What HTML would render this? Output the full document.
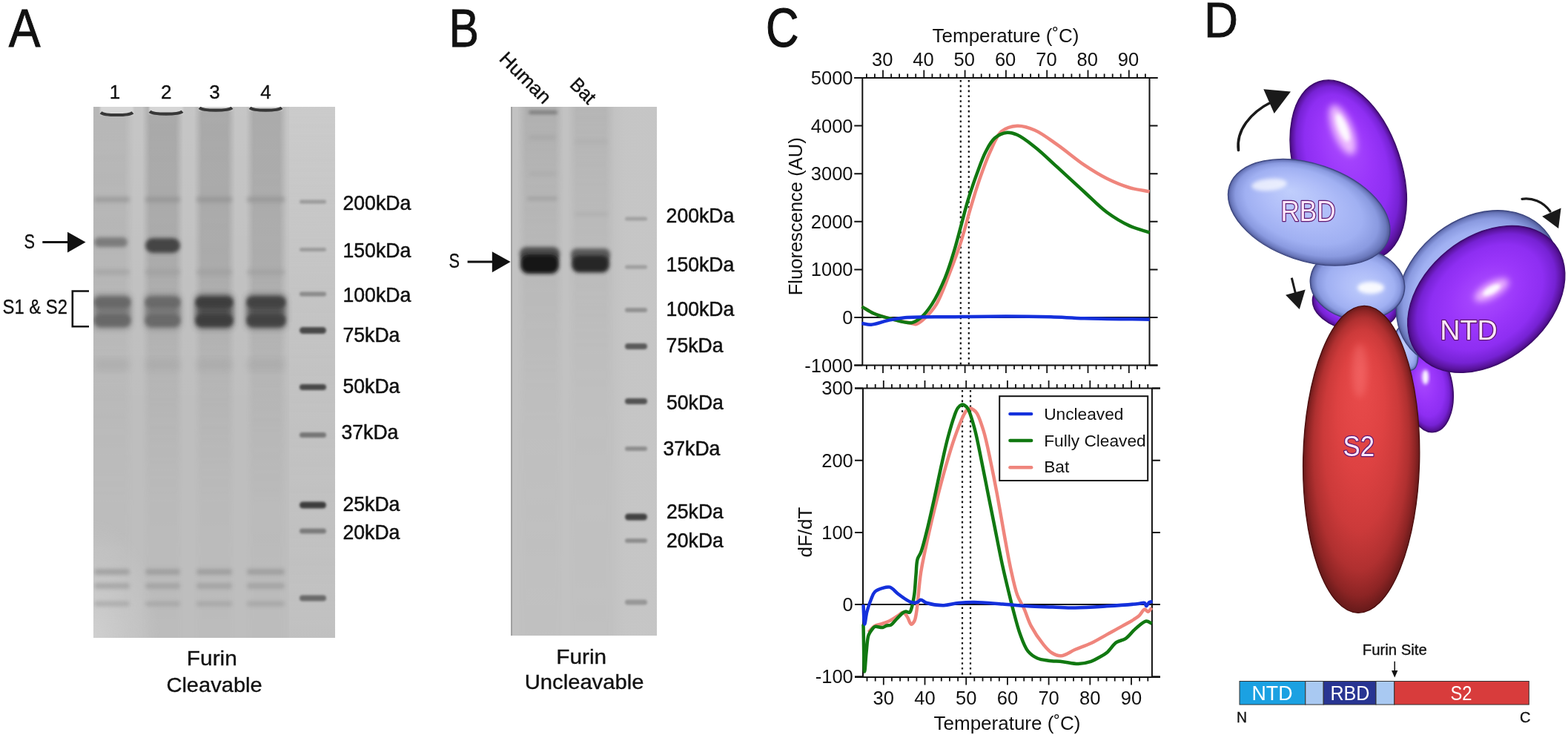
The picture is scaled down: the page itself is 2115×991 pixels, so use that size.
<!DOCTYPE html>
<html><head><meta charset="utf-8"><title>Figure</title>
<style>html,body{margin:0;padding:0;background:#fff;overflow:hidden;} svg{display:block;} text{font-family:"Liberation Sans",sans-serif;}</style>
</head><body>
<svg width="2115" height="991" viewBox="0 0 2115 991" fill="#111">
<defs>
<filter id="b05" x="-20%" y="-50%" width="140%" height="200%"><feGaussianBlur stdDeviation="0.6"/></filter>
<filter id="b1" x="-20%" y="-50%" width="140%" height="200%"><feGaussianBlur stdDeviation="1"/></filter>
<filter id="b15" x="-30%" y="-100%" width="160%" height="300%"><feGaussianBlur stdDeviation="1.5"/></filter>
<filter id="b2" x="-30%" y="-100%" width="160%" height="300%"><feGaussianBlur stdDeviation="2"/></filter>
<filter id="b3" x="-30%" y="-100%" width="160%" height="300%"><feGaussianBlur stdDeviation="2.5"/></filter>
<filter id="b4" x="-30%" y="-30%" width="160%" height="160%"><feGaussianBlur stdDeviation="4"/></filter>
<filter id="b6" x="-100%" y="-100%" width="300%" height="300%"><feGaussianBlur stdDeviation="5"/></filter>
<clipPath id="clipA"><rect x="126" y="144" width="326" height="716"/></clipPath>
<clipPath id="clipB"><rect x="689" y="144" width="197" height="713"/></clipPath>
<linearGradient id="laneH" x1="0" y1="0" x2="1" y2="0">
 <stop offset="0" stop-color="#9c9c9c" stop-opacity="0"/>
 <stop offset="0.18" stop-color="#9c9c9c" stop-opacity="0.9"/>
 <stop offset="0.82" stop-color="#9c9c9c" stop-opacity="0.9"/>
 <stop offset="1" stop-color="#9c9c9c" stop-opacity="0"/>
</linearGradient>
<linearGradient id="ladH" x1="0" y1="0" x2="1" y2="0">
 <stop offset="0" stop-color="#cacaca" stop-opacity="0"/>
 <stop offset="0.25" stop-color="#cacaca" stop-opacity="0.7"/>
 <stop offset="1" stop-color="#cacaca" stop-opacity="0.7"/>
</linearGradient>
<linearGradient id="ladV" x1="0" y1="144" x2="0" y2="860" gradientUnits="userSpaceOnUse">
 <stop offset="0" stop-color="#cccccc" stop-opacity="0.8"/>
 <stop offset="0.35" stop-color="#c8c8c8" stop-opacity="0.45"/>
 <stop offset="1" stop-color="#c8c8c8" stop-opacity="0.3"/>
</linearGradient>
<radialGradient id="cornerA" cx="0" cy="1" r="1">
 <stop offset="0" stop-color="#d4d4d4" stop-opacity="0.8"/>
 <stop offset="1" stop-color="#d4d4d4" stop-opacity="0"/>
</radialGradient>
<linearGradient id="mgA" x1="0" y1="144" x2="0" y2="860" gradientUnits="userSpaceOnUse">
 <stop offset="0" stop-color="#fff" stop-opacity="0.75"/>
 <stop offset="0.3" stop-color="#fff" stop-opacity="0.65"/>
 <stop offset="0.5" stop-color="#fff" stop-opacity="0.3"/>
 <stop offset="0.75" stop-color="#fff" stop-opacity="0.1"/>
 <stop offset="1" stop-color="#fff" stop-opacity="0.05"/>
</linearGradient>
<linearGradient id="mgB" x1="0" y1="144" x2="0" y2="857" gradientUnits="userSpaceOnUse">
 <stop offset="0" stop-color="#fff" stop-opacity="0.5"/>
 <stop offset="0.3" stop-color="#fff" stop-opacity="0.25"/>
 <stop offset="0.6" stop-color="#fff" stop-opacity="0.08"/>
 <stop offset="1" stop-color="#fff" stop-opacity="0.03"/>
</linearGradient>
<mask id="maskA" maskUnits="userSpaceOnUse" x="100" y="140" width="400" height="730"><rect x="100" y="140" width="400" height="730" fill="url(#mgA)"/></mask>
<mask id="maskB" maskUnits="userSpaceOnUse" x="680" y="140" width="220" height="730"><rect x="680" y="140" width="220" height="730" fill="url(#mgB)"/></mask>
<linearGradient id="gapGrad" x1="0" y1="140" x2="0" y2="560" gradientUnits="userSpaceOnUse">
 <stop offset="0" stop-color="#fff" stop-opacity="0.12"/>
 <stop offset="1" stop-color="#fff" stop-opacity="0"/>
</linearGradient>
</defs>
<rect width="2115" height="991" fill="#fff"/>
<text x="11.8" y="63" font-size="72" textLength="42.8" lengthAdjust="spacingAndGlyphs" stroke="#111" stroke-width="0.9">A</text>
<text x="155" y="132.5" font-size="26" text-anchor="middle" stroke="#111" stroke-width="0.35">1</text>
<text x="224.2" y="132.5" font-size="26" text-anchor="middle" stroke="#111" stroke-width="0.35">2</text>
<text x="289.4" y="132.5" font-size="26" text-anchor="middle" stroke="#111" stroke-width="0.35">3</text>
<text x="358.5" y="132.5" font-size="26" text-anchor="middle" stroke="#111" stroke-width="0.35">4</text>
<g clip-path="url(#clipA)">
<rect x="126" y="144" width="326" height="716" fill="#bebebe"/>
<rect x="120" y="140" width="340" height="420" fill="url(#gapGrad)" />
<g mask="url(#maskA)">
<rect x="112" y="144" width="68" height="716" fill="url(#laneH)" opacity="0.5"/>
<rect x="192" y="144" width="55" height="716" fill="url(#laneH)" opacity="1.0"/>
<rect x="262" y="144" width="55" height="716" fill="url(#laneH)" opacity="1.0"/>
<rect x="332" y="144" width="55" height="716" fill="url(#laneH)" opacity="0.95"/>
</g>
<rect x="390" y="144" width="62" height="716" fill="url(#ladV)"/>
<rect x="126" y="700" width="90" height="160" fill="url(#cornerA)"/>
<rect x="135" y="140" width="45" height="15.300000000000011" fill="#d6d6d6" filter="url(#b1)"/>
<path d="M136,151.8 C141,156.3 174,156.3 179,151.8" stroke="#383838" stroke-width="4.2" fill="none" filter="url(#b05)"/>
<rect x="201" y="140" width="46" height="13.699999999999989" fill="#d6d6d6" filter="url(#b1)"/>
<path d="M202,150.2 C207,154.7 241,154.7 246,150.2" stroke="#383838" stroke-width="4.2" fill="none" filter="url(#b05)"/>
<rect x="268" y="140" width="46" height="8.800000000000011" fill="#d6d6d6" filter="url(#b1)"/>
<path d="M269,145.3 C274,149.8 308,149.8 313,145.3" stroke="#383838" stroke-width="4.2" fill="none" filter="url(#b05)"/>
<rect x="336" y="140" width="45" height="8.800000000000011" fill="#d6d6d6" filter="url(#b1)"/>
<path d="M337,145.3 C342,149.8 375,149.8 380,145.3" stroke="#383838" stroke-width="4.2" fill="none" filter="url(#b05)"/>
<rect x="127" y="265.0" width="48" height="8" rx="4.0" fill="#8e8e8e" opacity="0.55" filter="url(#b3)"/>
<rect x="127" y="363.0" width="48" height="8" rx="4.0" fill="#9a9a9a" opacity="0.45" filter="url(#b3)"/>
<rect x="127" y="484.0" width="48" height="16" rx="8.0" fill="#a4a4a4" opacity="0.45" filter="url(#b4)"/>
<rect x="127" y="767.0" width="48" height="8" rx="4.0" fill="#929292" opacity="0.65" filter="url(#b3)"/>
<rect x="127" y="786.0" width="48" height="8" rx="4.0" fill="#969696" opacity="0.6" filter="url(#b3)"/>
<rect x="127" y="810.5" width="48" height="7" rx="3.5" fill="#9a9a9a" opacity="0.55" filter="url(#b3)"/>
<rect x="196" y="265.0" width="47" height="8" rx="4.0" fill="#8e8e8e" opacity="0.55" filter="url(#b3)"/>
<rect x="196" y="363.0" width="47" height="8" rx="4.0" fill="#9a9a9a" opacity="0.45" filter="url(#b3)"/>
<rect x="196" y="484.0" width="47" height="16" rx="8.0" fill="#a4a4a4" opacity="0.45" filter="url(#b4)"/>
<rect x="196" y="767.0" width="47" height="8" rx="4.0" fill="#929292" opacity="0.65" filter="url(#b3)"/>
<rect x="196" y="786.0" width="47" height="8" rx="4.0" fill="#969696" opacity="0.6" filter="url(#b3)"/>
<rect x="196" y="810.5" width="47" height="7" rx="3.5" fill="#9a9a9a" opacity="0.55" filter="url(#b3)"/>
<rect x="265" y="265.0" width="48" height="8" rx="4.0" fill="#8e8e8e" opacity="0.55" filter="url(#b3)"/>
<rect x="265" y="363.0" width="48" height="8" rx="4.0" fill="#9a9a9a" opacity="0.45" filter="url(#b3)"/>
<rect x="265" y="484.0" width="48" height="16" rx="8.0" fill="#a4a4a4" opacity="0.45" filter="url(#b4)"/>
<rect x="265" y="767.0" width="48" height="8" rx="4.0" fill="#929292" opacity="0.65" filter="url(#b3)"/>
<rect x="265" y="786.0" width="48" height="8" rx="4.0" fill="#969696" opacity="0.6" filter="url(#b3)"/>
<rect x="265" y="810.5" width="48" height="7" rx="3.5" fill="#9a9a9a" opacity="0.55" filter="url(#b3)"/>
<rect x="333" y="265.0" width="51" height="8" rx="4.0" fill="#8e8e8e" opacity="0.55" filter="url(#b3)"/>
<rect x="333" y="363.0" width="51" height="8" rx="4.0" fill="#9a9a9a" opacity="0.45" filter="url(#b3)"/>
<rect x="333" y="484.0" width="51" height="16" rx="8.0" fill="#a4a4a4" opacity="0.45" filter="url(#b4)"/>
<rect x="333" y="767.0" width="51" height="8" rx="4.0" fill="#929292" opacity="0.65" filter="url(#b3)"/>
<rect x="333" y="786.0" width="51" height="8" rx="4.0" fill="#969696" opacity="0.6" filter="url(#b3)"/>
<rect x="333" y="810.5" width="51" height="7" rx="3.5" fill="#9a9a9a" opacity="0.55" filter="url(#b3)"/>
<rect x="127" y="320.1" width="45" height="13" rx="6.5" fill="#767676" opacity="0.9" filter="url(#b3)"/>
<rect x="196" y="321.0" width="47" height="20" rx="10.0" fill="#454545" opacity="1.0" filter="url(#b3)"/>
<rect x="127" y="398.0" width="49" height="44" rx="6.0" fill="#666666" opacity="0.765" filter="url(#b4)"/>
<rect x="127" y="400.7" width="49" height="14" rx="7.0" fill="#666666" opacity="0.9" filter="url(#b3)"/>
<rect x="127" y="424.0" width="49" height="16" rx="8.0" fill="#666666" opacity="0.9" filter="url(#b3)"/>
<rect x="196" y="398.0" width="47" height="44" rx="6.0" fill="#686868" opacity="0.765" filter="url(#b4)"/>
<rect x="196" y="400.7" width="47" height="14" rx="7.0" fill="#686868" opacity="0.9" filter="url(#b3)"/>
<rect x="196" y="424.0" width="47" height="16" rx="8.0" fill="#686868" opacity="0.9" filter="url(#b3)"/>
<rect x="264" y="398.0" width="50" height="44" rx="6.0" fill="#3c3c3c" opacity="0.85" filter="url(#b4)"/>
<rect x="264" y="400.7" width="50" height="14" rx="7.0" fill="#3c3c3c" opacity="1.0" filter="url(#b3)"/>
<rect x="264" y="424.0" width="50" height="16" rx="8.0" fill="#3c3c3c" opacity="1.0" filter="url(#b3)"/>
<rect x="333" y="398.0" width="52" height="44" rx="6.0" fill="#424242" opacity="0.85" filter="url(#b4)"/>
<rect x="333" y="400.7" width="52" height="14" rx="7.0" fill="#424242" opacity="1.0" filter="url(#b3)"/>
<rect x="333" y="424.0" width="52" height="16" rx="8.0" fill="#424242" opacity="1.0" filter="url(#b3)"/>
<rect x="404" y="269.5" width="36" height="5" rx="2.5" fill="#9a9a9a" filter="url(#b15)"/>
<rect x="404" y="334.1" width="36" height="5" rx="2.5" fill="#9a9a9a" filter="url(#b15)"/>
<rect x="404" y="393.6" width="36" height="6" rx="3.0" fill="#8a8a8a" filter="url(#b15)"/>
<rect x="404" y="441.0" width="36" height="9" rx="4.5" fill="#4a4a4a" filter="url(#b15)"/>
<rect x="404" y="518.0" width="36" height="8" rx="4.0" fill="#4a4a4a" filter="url(#b15)"/>
<rect x="404" y="583.1" width="36" height="7" rx="3.5" fill="#767676" filter="url(#b15)"/>
<rect x="404" y="676.5" width="36" height="9" rx="4.5" fill="#3c3c3c" filter="url(#b15)"/>
<rect x="404" y="712.5" width="36" height="7" rx="3.5" fill="#7c7c7c" filter="url(#b15)"/>
<rect x="404" y="802.5" width="36" height="8" rx="4.0" fill="#6a6a6a" filter="url(#b15)"/>
</g>
<text x="462.5" y="282.9" font-size="27.5" textLength="91.8" lengthAdjust="spacingAndGlyphs" stroke="#111" stroke-width="0.5">200kDa</text>
<text x="462.5" y="347.3" font-size="27.5" textLength="91.8" lengthAdjust="spacingAndGlyphs" stroke="#111" stroke-width="0.5">150kDa</text>
<text x="462.5" y="407.2" font-size="27.5" textLength="91.8" lengthAdjust="spacingAndGlyphs" stroke="#111" stroke-width="0.5">100kDa</text>
<text x="462.5" y="461" font-size="27.5" textLength="76.9" lengthAdjust="spacingAndGlyphs" stroke="#111" stroke-width="0.5">75kDa</text>
<text x="462.5" y="530" font-size="27.5" textLength="76.9" lengthAdjust="spacingAndGlyphs" stroke="#111" stroke-width="0.5">50kDa</text>
<text x="460.5" y="592" font-size="27.5" textLength="76.9" lengthAdjust="spacingAndGlyphs" stroke="#111" stroke-width="0.5">37kDa</text>
<text x="462.5" y="688.9" font-size="27.5" textLength="76.9" lengthAdjust="spacingAndGlyphs" stroke="#111" stroke-width="0.5">25kDa</text>
<text x="462.5" y="727" font-size="27.5" textLength="76.9" lengthAdjust="spacingAndGlyphs" stroke="#111" stroke-width="0.5">20kDa</text>
<text x="32.5" y="335" font-size="27" textLength="14.5" lengthAdjust="spacingAndGlyphs" stroke="#111" stroke-width="0.35">S</text>
<path d="M57.3,326.6 H93" stroke="#111" stroke-width="3"/>
<path d="M91,312.8 L115.5,326.6 L91,340.6 Z" fill="#111"/>
<path d="M120,392.5 H97.8 V440.3 H120" stroke="#111" stroke-width="2.6" fill="none"/>
<text x="3.5" y="422.8" font-size="27" textLength="87.5" lengthAdjust="spacingAndGlyphs" stroke="#111" stroke-width="0.35">S1 &amp; S2</text>
<text x="251.8" y="897.4" font-size="27.5" textLength="68" lengthAdjust="spacingAndGlyphs" stroke="#111" stroke-width="0.35">Furin</text>
<text x="224.4" y="932.8" font-size="27.5" textLength="129.3" lengthAdjust="spacingAndGlyphs" stroke="#111" stroke-width="0.35">Cleavable</text>
<text x="605.4" y="63" font-size="72" textLength="40.5" lengthAdjust="spacingAndGlyphs" stroke="#111" stroke-width="0.9">B</text>
<text transform="translate(672,80.5) rotate(45)" font-size="26" textLength="86.5" lengthAdjust="spacingAndGlyphs" stroke="#111" stroke-width="0.35">Human</text>
<text transform="translate(767.3,115.6) rotate(45)" font-size="26" textLength="37" lengthAdjust="spacingAndGlyphs" stroke="#111" stroke-width="0.35">Bat</text>
<g clip-path="url(#clipB)">
<rect x="689" y="144" width="197" height="713" fill="#c2c2c2"/>
<rect x="689" y="144" width="2" height="713" fill="#a0a0a0"/>
<g mask="url(#maskB)">
<rect x="698" y="144" width="62" height="713" fill="url(#laneH)" opacity="1.0"/>
<rect x="766" y="144" width="62" height="713" fill="url(#laneH)" opacity="0.7"/>
</g>
<rect x="828" y="144" width="58" height="713" fill="url(#ladH)" opacity="0.6"/>
<rect x="713" y="149.0" width="39" height="5" rx="2.5" fill="#707070" opacity="0.8" filter="url(#b2)"/>
<rect x="713" y="182.3" width="37" height="6" rx="3.0" fill="#a0a0a0" opacity="0.5" filter="url(#b3)"/>
<rect x="713" y="231.0" width="37" height="6" rx="3.0" fill="#a4a4a4" opacity="0.4" filter="url(#b3)"/>
<rect x="711" y="264.8" width="41" height="6" rx="3.0" fill="#989898" opacity="0.55" filter="url(#b3)"/>
<rect x="775" y="188.0" width="45" height="6" rx="3.0" fill="#a8a8a8" opacity="0.4" filter="url(#b3)"/>
<rect x="775" y="285.5" width="45" height="6" rx="3.0" fill="#a8a8a8" opacity="0.45" filter="url(#b3)"/>
<rect x="701" y="333.0" width="54" height="20" rx="9.0" fill="#484848" opacity="0.95" filter="url(#b3)"/>
<rect x="702" y="343.0" width="52" height="26" rx="11.0" fill="#171717" opacity="1.0" filter="url(#b3)"/>
<rect x="770" y="335.0" width="53" height="18" rx="8.0" fill="#565656" opacity="0.95" filter="url(#b3)"/>
<rect x="771" y="344.5" width="51" height="23" rx="10.0" fill="#282828" opacity="1.0" filter="url(#b3)"/>
<rect x="843" y="292.5" width="30" height="5" rx="2.5" fill="#a0a0a0" filter="url(#b15)"/>
<rect x="843" y="357.5" width="30" height="5" rx="2.5" fill="#9e9e9e" filter="url(#b15)"/>
<rect x="843" y="415.0" width="30" height="6" rx="3.0" fill="#929292" filter="url(#b15)"/>
<rect x="843" y="463.0" width="30" height="8" rx="4.0" fill="#5a5a5a" filter="url(#b15)"/>
<rect x="843" y="537.0" width="30" height="8" rx="4.0" fill="#525252" filter="url(#b15)"/>
<rect x="843" y="602.0" width="30" height="6" rx="3.0" fill="#8e8e8e" filter="url(#b15)"/>
<rect x="843" y="692.5" width="30" height="9" rx="4.5" fill="#424242" filter="url(#b15)"/>
<rect x="843" y="726.0" width="30" height="6" rx="3.0" fill="#8e8e8e" filter="url(#b15)"/>
<rect x="843" y="808.5" width="30" height="7" rx="3.5" fill="#969696" filter="url(#b15)"/>
</g>
<text x="898.6" y="300" font-size="27.5" textLength="91.8" lengthAdjust="spacingAndGlyphs" stroke="#111" stroke-width="0.5">200kDa</text>
<text x="898.6" y="366" font-size="27.5" textLength="91.8" lengthAdjust="spacingAndGlyphs" stroke="#111" stroke-width="0.5">150kDa</text>
<text x="898.6" y="426" font-size="27.5" textLength="91.8" lengthAdjust="spacingAndGlyphs" stroke="#111" stroke-width="0.5">100kDa</text>
<text x="898.6" y="475" font-size="27.5" textLength="76.9" lengthAdjust="spacingAndGlyphs" stroke="#111" stroke-width="0.5">75kDa</text>
<text x="899" y="552" font-size="27.5" textLength="76.9" lengthAdjust="spacingAndGlyphs" stroke="#111" stroke-width="0.5">50kDa</text>
<text x="894.5" y="613.8" font-size="27.5" textLength="76.9" lengthAdjust="spacingAndGlyphs" stroke="#111" stroke-width="0.5">37kDa</text>
<text x="899" y="699" font-size="27.5" textLength="76.9" lengthAdjust="spacingAndGlyphs" stroke="#111" stroke-width="0.5">25kDa</text>
<text x="899" y="738" font-size="27.5" textLength="76.9" lengthAdjust="spacingAndGlyphs" stroke="#111" stroke-width="0.5">20kDa</text>
<text x="605.5" y="361.4" font-size="27" textLength="14.5" lengthAdjust="spacingAndGlyphs" stroke="#111" stroke-width="0.35">S</text>
<path d="M630.6,353 H666" stroke="#111" stroke-width="3"/>
<path d="M663.8,339.3 L688.6,353 L663.8,367.2 Z" fill="#111"/>
<text x="750.3" y="894.5" font-size="27.5" textLength="67.8" lengthAdjust="spacingAndGlyphs" stroke="#111" stroke-width="0.35">Furin</text>
<text x="707.8" y="928.9" font-size="27.5" textLength="160.6" lengthAdjust="spacingAndGlyphs" stroke="#111" stroke-width="0.35">Uncleavable</text>
<path d="M1163.3,105.0 V492.6 M1550.5,105.0 V492.6" stroke="#111" stroke-width="2" fill="none"/>
<path d="M1152.3,105.0 H1561.5 M1152.3,492.6 H1561.5" stroke="#111" stroke-width="2" fill="none"/>
<path d="M1168.9,105.0 v-5.5 M1168.9,492.6 v5.5 M1179.9,105.0 v-5.5 M1179.9,492.6 v5.5 M1191.0,105.0 v-10.5 M1191.0,492.6 v10.5 M1202.1,105.0 v-5.5 M1202.1,492.6 v5.5 M1213.1,105.0 v-5.5 M1213.1,492.6 v5.5 M1224.2,105.0 v-5.5 M1224.2,492.6 v5.5 M1235.2,105.0 v-5.5 M1235.2,492.6 v5.5 M1246.3,105.0 v-10.5 M1246.3,492.6 v10.5 M1257.4,105.0 v-5.5 M1257.4,492.6 v5.5 M1268.4,105.0 v-5.5 M1268.4,492.6 v5.5 M1279.5,105.0 v-5.5 M1279.5,492.6 v5.5 M1290.5,105.0 v-5.5 M1290.5,492.6 v5.5 M1301.6,105.0 v-10.5 M1301.6,492.6 v10.5 M1312.7,105.0 v-5.5 M1312.7,492.6 v5.5 M1323.7,105.0 v-5.5 M1323.7,492.6 v5.5 M1334.8,105.0 v-5.5 M1334.8,492.6 v5.5 M1345.8,105.0 v-5.5 M1345.8,492.6 v5.5 M1356.9,105.0 v-10.5 M1356.9,492.6 v10.5 M1368.0,105.0 v-5.5 M1368.0,492.6 v5.5 M1379.0,105.0 v-5.5 M1379.0,492.6 v5.5 M1390.1,105.0 v-5.5 M1390.1,492.6 v5.5 M1401.1,105.0 v-5.5 M1401.1,492.6 v5.5 M1412.2,105.0 v-10.5 M1412.2,492.6 v10.5 M1423.3,105.0 v-5.5 M1423.3,492.6 v5.5 M1434.3,105.0 v-5.5 M1434.3,492.6 v5.5 M1445.4,105.0 v-5.5 M1445.4,492.6 v5.5 M1456.4,105.0 v-5.5 M1456.4,492.6 v5.5 M1467.5,105.0 v-10.5 M1467.5,492.6 v10.5 M1478.6,105.0 v-5.5 M1478.6,492.6 v5.5 M1489.6,105.0 v-5.5 M1489.6,492.6 v5.5 M1500.7,105.0 v-5.5 M1500.7,492.6 v5.5 M1511.7,105.0 v-5.5 M1511.7,492.6 v5.5 M1522.8,105.0 v-10.5 M1522.8,492.6 v10.5 M1533.9,105.0 v-5.5 M1533.9,492.6 v5.5 M1544.9,105.0 v-5.5 M1544.9,492.6 v5.5" stroke="#111" stroke-width="1.8" fill="none"/>
<path d="M1152.3,105.0 H1163.3 M1550.5,105.0 H1561.5 M1152.3,169.6 H1163.3 M1550.5,169.6 H1561.5 M1152.3,234.2 H1163.3 M1550.5,234.2 H1561.5 M1152.3,298.8 H1163.3 M1550.5,298.8 H1561.5 M1152.3,363.4 H1163.3 M1550.5,363.4 H1561.5 M1152.3,428.0 H1163.3 M1550.5,428.0 H1561.5 M1152.3,492.6 H1163.3 M1550.5,492.6 H1561.5" stroke="#111" stroke-width="2" fill="none"/>
<path d="M1163.3,428.0 H1550.5" stroke="#111" stroke-width="2"/>
<text x="1190.2" y="88.6" text-anchor="middle" font-size="25.5">30</text>
<text x="1245.5" y="88.6" text-anchor="middle" font-size="25.5">40</text>
<text x="1300.8" y="88.6" text-anchor="middle" font-size="25.5">50</text>
<text x="1356.1" y="88.6" text-anchor="middle" font-size="25.5">60</text>
<text x="1411.4" y="88.6" text-anchor="middle" font-size="25.5">70</text>
<text x="1466.7" y="88.6" text-anchor="middle" font-size="25.5">80</text>
<text x="1522.0" y="88.6" text-anchor="middle" font-size="25.5">90</text>
<text x="1150.5" y="113.9" text-anchor="end" font-size="25.5">5000</text>
<text x="1150.5" y="178.5" text-anchor="end" font-size="25.5">4000</text>
<text x="1150.5" y="243.1" text-anchor="end" font-size="25.5">3000</text>
<text x="1150.5" y="307.7" text-anchor="end" font-size="25.5">2000</text>
<text x="1150.5" y="372.3" text-anchor="end" font-size="25.5">1000</text>
<text x="1150.5" y="436.9" text-anchor="end" font-size="25.5">0</text>
<text x="1150.5" y="501.5" text-anchor="end" font-size="25.5">-1000</text>
<text x="1257.5" y="56.8" font-size="26.5" textLength="198" lengthAdjust="spacingAndGlyphs">Temperature (˚C)</text>
<text transform="translate(1081.5,398.3) rotate(-90)" font-size="25.5" textLength="213" lengthAdjust="spacingAndGlyphs">Fluorescence (AU)</text>
<path d="M1295.8,108 V492 M1306.8,108 V492" stroke="#111" stroke-width="2.2" stroke-dasharray="2.6 4.2" fill="none"/>
<path d="M1162.4,413.4 C1167.7,416.4 1172.2,419.9 1178.2,422.5 C1185.3,425.6 1194.0,427.8 1202.4,430.0 C1211.2,432.3 1223.7,434.9 1229.6,436.0 C1232.5,436.5 1233.7,437.6 1236.0,437.0 C1239.5,436.2 1243.9,432.3 1247.8,428.6 C1252.8,423.9 1258.3,418.2 1263.0,410.4 C1269.6,399.6 1275.4,382.2 1281.0,368.0 C1286.5,353.9 1291.7,339.8 1296.3,325.6 C1300.8,311.5 1304.3,297.0 1308.4,283.2 C1312.4,269.8 1316.0,256.9 1320.5,243.9 C1325.1,230.7 1330.1,216.2 1335.6,204.5 C1340.3,194.4 1344.0,183.1 1350.8,177.3 C1356.6,172.4 1364.6,170.1 1372.0,169.7 C1379.7,169.3 1388.0,172.1 1396.2,175.7 C1406.1,180.0 1416.1,188.1 1426.5,195.4 C1438.2,203.6 1451.0,214.8 1462.8,222.7 C1473.2,229.7 1482.8,235.7 1493.1,240.8 C1503.0,245.7 1513.4,250.0 1523.4,253.0 C1532.6,255.7 1541.5,256.6 1550.6,258.4" stroke="#ef857c" stroke-width="4.5" fill="none" stroke-linejoin="round"/>
<path d="M1162.4,413.4 C1167.7,416.4 1172.2,419.9 1178.2,422.5 C1185.3,425.6 1194.0,427.9 1202.4,430.0 C1211.1,432.2 1222.5,436.3 1229.6,435.2 C1234.6,434.4 1237.8,431.9 1241.8,428.6 C1247.0,424.3 1252.1,417.8 1256.9,410.4 C1263.3,400.6 1269.9,386.3 1275.0,374.0 C1279.9,362.1 1283.6,349.6 1287.2,337.7 C1290.6,326.4 1293.3,315.5 1296.3,304.4 C1299.3,293.3 1301.9,282.4 1305.3,271.1 C1308.9,259.2 1313.3,246.3 1317.5,234.8 C1321.4,224.2 1325.1,213.1 1329.6,204.5 C1333.3,197.4 1336.6,190.6 1341.7,186.3 C1346.3,182.3 1352.9,179.4 1358.3,178.8 C1363.0,178.3 1367.0,179.6 1372.0,181.8 C1379.2,184.9 1387.9,191.9 1396.2,198.4 C1406.0,206.1 1416.0,216.1 1426.5,225.7 C1438.1,236.2 1451.2,248.5 1462.8,259.0 C1473.3,268.6 1482.6,278.6 1493.1,286.3 C1502.9,293.5 1513.3,299.8 1523.4,304.4 C1532.5,308.6 1541.5,310.5 1550.6,313.5" stroke="#117811" stroke-width="4.5" fill="none" stroke-linejoin="round"/>
<path d="M1162.4,436.1 C1166.6,436.6 1170.2,438.0 1175.1,437.7 C1181.9,437.3 1191.5,433.2 1199.4,431.6 C1206.7,430.1 1211.7,429.1 1220.6,428.3 C1235.5,427.0 1259.7,427.5 1281.0,427.2 C1304.8,426.9 1332.9,426.4 1356.8,426.4 C1378.1,426.4 1398.7,426.7 1417.4,427.2 C1433.6,427.7 1445.2,428.7 1462.8,429.2 C1487.3,429.9 1521.3,430.2 1550.6,430.7" stroke="#1430dc" stroke-width="4.5" fill="none" stroke-linejoin="round"/>
<path d="M1164.0,523.5 V913.0 M1553.9,523.5 V913.0" stroke="#111" stroke-width="2" fill="none"/>
<path d="M1153.0,523.5 H1564.9 M1153.0,913.0 H1564.9" stroke="#111" stroke-width="2" fill="none"/>
<path d="M1169.5,523.5 v-5.5 M1169.5,913.0 v5.5 M1180.7,523.5 v-5.5 M1180.7,913.0 v5.5 M1191.8,523.5 v-10.5 M1191.8,913.0 v10.5 M1202.9,523.5 v-5.5 M1202.9,913.0 v5.5 M1214.1,523.5 v-5.5 M1214.1,913.0 v5.5 M1225.2,523.5 v-5.5 M1225.2,913.0 v5.5 M1236.4,523.5 v-5.5 M1236.4,913.0 v5.5 M1247.5,523.5 v-10.5 M1247.5,913.0 v10.5 M1258.6,523.5 v-5.5 M1258.6,913.0 v5.5 M1269.8,523.5 v-5.5 M1269.8,913.0 v5.5 M1280.9,523.5 v-5.5 M1280.9,913.0 v5.5 M1292.1,523.5 v-5.5 M1292.1,913.0 v5.5 M1303.2,523.5 v-10.5 M1303.2,913.0 v10.5 M1314.3,523.5 v-5.5 M1314.3,913.0 v5.5 M1325.5,523.5 v-5.5 M1325.5,913.0 v5.5 M1336.6,523.5 v-5.5 M1336.6,913.0 v5.5 M1347.8,523.5 v-5.5 M1347.8,913.0 v5.5 M1358.9,523.5 v-10.5 M1358.9,913.0 v10.5 M1370.0,523.5 v-5.5 M1370.0,913.0 v5.5 M1381.2,523.5 v-5.5 M1381.2,913.0 v5.5 M1392.3,523.5 v-5.5 M1392.3,913.0 v5.5 M1403.5,523.5 v-5.5 M1403.5,913.0 v5.5 M1414.6,523.5 v-10.5 M1414.6,913.0 v10.5 M1425.7,523.5 v-5.5 M1425.7,913.0 v5.5 M1436.9,523.5 v-5.5 M1436.9,913.0 v5.5 M1448.0,523.5 v-5.5 M1448.0,913.0 v5.5 M1459.2,523.5 v-5.5 M1459.2,913.0 v5.5 M1470.3,523.5 v-10.5 M1470.3,913.0 v10.5 M1481.4,523.5 v-5.5 M1481.4,913.0 v5.5 M1492.6,523.5 v-5.5 M1492.6,913.0 v5.5 M1503.7,523.5 v-5.5 M1503.7,913.0 v5.5 M1514.9,523.5 v-5.5 M1514.9,913.0 v5.5 M1526.0,523.5 v-10.5 M1526.0,913.0 v10.5 M1537.1,523.5 v-5.5 M1537.1,913.0 v5.5 M1548.3,523.5 v-5.5 M1548.3,913.0 v5.5" stroke="#111" stroke-width="1.8" fill="none"/>
<path d="M1153.0,523.5 H1164.0 M1553.9,523.5 H1564.9 M1153.0,620.7 H1164.0 M1553.9,620.7 H1564.9 M1153.0,717.9 H1164.0 M1553.9,717.9 H1564.9 M1153.0,815.1 H1164.0 M1553.9,815.1 H1564.9 M1153.0,912.3 H1164.0 M1553.9,912.3 H1564.9" stroke="#111" stroke-width="2" fill="none"/>
<path d="M1164.0,815.1 H1553.9" stroke="#111" stroke-width="2"/>
<text x="1191.8" y="950.3" text-anchor="middle" font-size="25.5">30</text>
<text x="1247.5" y="950.3" text-anchor="middle" font-size="25.5">40</text>
<text x="1303.2" y="950.3" text-anchor="middle" font-size="25.5">50</text>
<text x="1358.9" y="950.3" text-anchor="middle" font-size="25.5">60</text>
<text x="1414.6" y="950.3" text-anchor="middle" font-size="25.5">70</text>
<text x="1470.3" y="950.3" text-anchor="middle" font-size="25.5">80</text>
<text x="1526.0" y="950.3" text-anchor="middle" font-size="25.5">90</text>
<text x="1150.8" y="532.4" text-anchor="end" font-size="25.5">300</text>
<text x="1150.8" y="629.6" text-anchor="end" font-size="25.5">200</text>
<text x="1150.8" y="726.8" text-anchor="end" font-size="25.5">100</text>
<text x="1150.8" y="824.0" text-anchor="end" font-size="25.5">0</text>
<text x="1150.8" y="921.2" text-anchor="end" font-size="25.5">-100</text>
<text x="1259.5" y="983.5" font-size="26.5" textLength="198" lengthAdjust="spacingAndGlyphs">Temperature (˚C)</text>
<text transform="translate(1094.5,751.6) rotate(-90)" font-size="25.5" textLength="68" lengthAdjust="spacingAndGlyphs">dF/dT</text>
<path d="M1298,526 V912 M1309,526 V912" stroke="#111" stroke-width="2.2" stroke-dasharray="2.6 4.2" fill="none"/>
<path d="M1171.5,852.4 C1174.3,849.6 1176.8,845.8 1180.0,843.9 C1183.0,842.1 1186.8,842.1 1190.0,841.0 C1193.2,839.9 1196.1,839.0 1199.2,837.5 C1202.7,835.8 1206.6,833.1 1210.0,831.0 C1213.0,829.2 1216.0,825.5 1218.4,825.8 C1220.6,826.1 1222.3,829.6 1224.0,832.0 C1225.9,834.8 1227.2,841.4 1229.0,841.7 C1230.3,841.9 1232.2,839.4 1233.3,837.5 C1234.8,834.8 1235.1,831.5 1236.0,826.4 C1238.0,815.2 1239.4,789.3 1242.1,772.0 C1244.6,756.1 1247.8,742.2 1251.2,726.6 C1254.8,710.0 1259.1,691.8 1263.3,675.2 C1267.2,659.6 1271.2,644.3 1275.4,629.8 C1279.3,616.2 1283.2,602.7 1287.5,590.5 C1291.3,579.7 1296.3,566.7 1299.6,560.2 C1301.3,556.9 1302.3,554.6 1304.0,553.0 C1305.4,551.7 1307.1,550.7 1308.6,550.6 C1310.1,550.5 1311.6,551.5 1313.0,552.5 C1314.7,553.6 1316.1,554.8 1317.7,557.2 C1320.8,562.0 1324.0,572.3 1326.8,581.4 C1330.3,592.8 1333.0,607.1 1335.9,620.7 C1339.0,635.3 1342.0,650.5 1344.9,666.1 C1348.0,682.7 1350.9,700.6 1354.0,717.5 C1357.0,733.9 1359.8,751.0 1363.1,765.9 C1366.0,778.9 1368.6,792.3 1372.2,802.2 C1374.9,809.5 1378.3,813.9 1381.2,820.4 C1384.5,827.7 1386.6,836.1 1390.7,843.9 C1395.2,852.5 1402.4,862.9 1407.7,869.4 C1411.4,873.9 1414.4,877.5 1418.4,880.0 C1422.2,882.4 1426.6,884.5 1431.2,884.3 C1437.0,884.0 1443.7,878.6 1450.3,875.8 C1457.2,872.9 1464.6,870.6 1471.6,867.3 C1478.8,863.9 1485.8,859.5 1492.9,855.6 C1500.0,851.7 1507.1,848.0 1514.2,843.9 C1521.3,839.8 1530.2,835.5 1535.5,831.1 C1539.3,828.0 1541.5,821.8 1544.0,821.5 C1545.6,821.3 1546.8,824.8 1548.3,824.7 C1550.0,824.6 1551.8,821.2 1553.6,819.4" stroke="#ef857c" stroke-width="4.5" fill="none" stroke-linejoin="round"/>
<path d="M1164.5,841.7 C1165.1,863.0 1165.2,905.6 1166.2,905.6 C1166.8,905.6 1167.6,888.3 1168.5,880.0 C1169.4,872.0 1169.6,862.1 1171.5,856.6 C1172.7,853.2 1174.4,851.1 1176.0,849.0 C1177.3,847.4 1178.1,845.7 1180.0,845.0 C1182.6,844.1 1187.8,846.5 1190.7,846.0 C1192.8,845.6 1194.2,844.0 1196.0,843.5 C1197.8,843.0 1199.6,843.7 1201.4,842.8 C1204.2,841.4 1207.1,836.9 1210.0,834.0 C1212.8,831.2 1216.0,827.3 1218.4,825.8 C1219.7,825.0 1220.7,824.6 1222.0,824.5 C1223.5,824.4 1225.6,826.4 1226.9,825.8 C1228.5,825.0 1229.1,821.4 1230.0,818.3 C1231.3,813.8 1232.4,807.6 1233.3,801.3 C1234.4,793.5 1234.7,783.3 1235.5,775.0 C1236.2,767.6 1236.0,759.3 1237.6,753.8 C1238.7,750.0 1240.6,748.8 1242.1,744.8 C1245.0,737.3 1248.3,723.1 1251.2,711.5 C1254.3,699.0 1257.2,685.6 1260.2,672.2 C1263.3,658.3 1266.2,643.7 1269.3,629.8 C1272.3,616.4 1275.2,602.7 1278.4,590.5 C1281.3,579.7 1284.8,567.6 1287.5,560.2 C1289.1,555.8 1290.1,552.5 1292.0,550.0 C1293.5,548.0 1295.5,546.1 1297.2,545.7 C1298.5,545.4 1299.8,545.8 1301.0,546.5 C1302.6,547.4 1304.1,548.7 1305.6,551.2 C1308.7,556.3 1311.9,568.3 1314.7,578.4 C1318.1,590.9 1320.8,606.3 1323.8,620.7 C1326.9,635.6 1329.8,651.0 1332.8,666.1 C1335.8,681.2 1338.9,696.4 1341.9,711.5 C1344.9,726.6 1347.9,742.3 1351.0,756.9 C1353.9,770.5 1357.3,784.7 1360.1,796.2 C1362.3,805.2 1363.8,811.7 1366.1,820.4 C1368.9,830.8 1372.1,844.3 1375.8,854.5 C1379.0,863.2 1381.9,872.2 1386.5,877.9 C1390.1,882.4 1394.5,885.4 1399.2,887.5 C1403.8,889.6 1408.8,889.9 1414.1,890.7 C1420.1,891.6 1426.7,891.5 1433.3,892.2 C1440.2,892.9 1447.9,895.2 1454.6,895.0 C1460.6,894.8 1466.7,893.4 1471.6,891.8 C1475.7,890.4 1478.8,888.4 1482.3,886.5 C1485.9,884.5 1489.4,882.9 1492.9,880.0 C1497.2,876.5 1501.1,869.4 1505.7,866.2 C1509.7,863.4 1514.5,863.6 1518.5,860.9 C1523.1,857.8 1526.6,852.0 1531.2,848.1 C1535.8,844.2 1541.9,838.0 1546.1,837.5 C1548.9,837.2 1551.1,839.6 1553.6,840.7" stroke="#117811" stroke-width="4.5" fill="none" stroke-linejoin="round"/>
<path d="M1164.5,815.1 C1165.1,824.0 1165.2,841.6 1166.2,841.7 C1167.0,841.7 1167.9,830.3 1169.4,824.7 C1170.9,819.1 1173.0,812.8 1175.0,808.0 C1176.6,804.2 1177.5,800.5 1180.0,798.0 C1182.6,795.4 1187.1,793.8 1190.7,792.8 C1193.9,791.9 1197.1,790.8 1200.3,791.7 C1204.3,792.9 1207.6,798.1 1212.0,801.3 C1217.0,804.9 1224.1,810.6 1229.0,812.0 C1232.2,812.9 1235.2,812.8 1237.5,812.0 C1239.3,811.4 1240.1,808.9 1241.8,808.7 C1244.1,808.5 1246.7,811.9 1250.3,813.0 C1255.7,814.7 1264.5,816.2 1271.6,816.2 C1278.7,816.2 1285.8,813.7 1292.9,813.0 C1300.0,812.3 1306.1,811.9 1314.2,812.0 C1325.1,812.1 1340.1,813.6 1352.5,814.5 C1364.2,815.4 1375.2,816.6 1386.5,817.3 C1397.7,818.0 1409.1,818.1 1420.0,818.5 C1430.4,818.8 1439.3,819.5 1450.3,819.4 C1463.3,819.3 1478.7,818.2 1492.9,817.3 C1507.1,816.4 1526.7,814.9 1535.5,814.0 C1539.4,813.6 1542.3,812.0 1544.0,813.0 C1545.3,813.7 1545.2,817.2 1546.1,817.3 C1547.2,817.4 1548.8,813.0 1550.4,812.0 C1551.7,811.2 1553.2,811.3 1554.6,810.9" stroke="#1430dc" stroke-width="4.5" fill="none" stroke-linejoin="round"/>
<rect x="1348.2" y="534.2" width="200" height="113.8" fill="#fff" stroke="#111" stroke-width="2"/>
<path d="M1362.4,558.1 H1391.2" stroke="#1430dc" stroke-width="4.4" stroke-linecap="round"/>
<path d="M1362.4,594 H1391.2" stroke="#117811" stroke-width="4.4" stroke-linecap="round"/>
<path d="M1362.4,630.3 H1391.2" stroke="#ef857c" stroke-width="4.4" stroke-linecap="round"/>
<text x="1408.2" y="566" font-size="22.7">Uncleaved</text>
<text x="1408.2" y="601.6" font-size="22.7">Fully Cleaved</text>
<text x="1408.2" y="637" font-size="22.7">Bat</text>
<text x="1033" y="63.3" font-size="74" textLength="44.5" lengthAdjust="spacingAndGlyphs" stroke="#111" stroke-width="1.2">C</text>
<defs><radialGradient id="gPt" cx="0.5" cy="0.5" r="0.5" fx="0.56" fy="0.3"><stop offset="0" stop-color="#ad4eff"/><stop offset="0.45" stop-color="#9a36fa"/><stop offset="0.72" stop-color="#8e2ef2"/><stop offset="0.88" stop-color="#7622d4"/><stop offset="0.96" stop-color="#5a149e"/><stop offset="1" stop-color="#42097a"/></radialGradient><radialGradient id="gPm" cx="0.5" cy="0.5" r="0.5" fx="0.45" fy="0.35"><stop offset="0" stop-color="#ad4eff"/><stop offset="0.45" stop-color="#9a36fa"/><stop offset="0.72" stop-color="#8e2ef2"/><stop offset="0.88" stop-color="#7622d4"/><stop offset="0.96" stop-color="#5a149e"/><stop offset="1" stop-color="#42097a"/></radialGradient><radialGradient id="gPl" cx="0.5" cy="0.5" r="0.5" fx="0.35" fy="0.3"><stop offset="0" stop-color="#ad4eff"/><stop offset="0.45" stop-color="#9a36fa"/><stop offset="0.72" stop-color="#8e2ef2"/><stop offset="0.88" stop-color="#7622d4"/><stop offset="0.96" stop-color="#5a149e"/><stop offset="1" stop-color="#42097a"/></radialGradient><radialGradient id="gBs" cx="0.5" cy="0.5" r="0.5" fx="0.4" fy="0.4"><stop offset="0" stop-color="#c0cefc"/><stop offset="0.45" stop-color="#aebcf8"/><stop offset="0.72" stop-color="#a0b0f2"/><stop offset="0.88" stop-color="#8a9ae0"/><stop offset="0.96" stop-color="#6a78bc"/><stop offset="1" stop-color="#4c5690"/></radialGradient><radialGradient id="gBn" cx="0.5" cy="0.5" r="0.5" fx="0.45" fy="0.35"><stop offset="0" stop-color="#c0cefc"/><stop offset="0.45" stop-color="#aebcf8"/><stop offset="0.72" stop-color="#a0b0f2"/><stop offset="0.88" stop-color="#8a9ae0"/><stop offset="0.96" stop-color="#6a78bc"/><stop offset="1" stop-color="#4c5690"/></radialGradient><radialGradient id="gBm" cx="0.5" cy="0.5" r="0.5" fx="0.62" fy="0.55"><stop offset="0" stop-color="#c0cefc"/><stop offset="0.45" stop-color="#aebcf8"/><stop offset="0.72" stop-color="#a0b0f2"/><stop offset="0.88" stop-color="#8a9ae0"/><stop offset="0.96" stop-color="#6a78bc"/><stop offset="1" stop-color="#4c5690"/></radialGradient><radialGradient id="gBr" cx="0.5" cy="0.5" r="0.5" fx="0.35" fy="0.35"><stop offset="0" stop-color="#c0cefc"/><stop offset="0.45" stop-color="#aebcf8"/><stop offset="0.72" stop-color="#a0b0f2"/><stop offset="0.88" stop-color="#8a9ae0"/><stop offset="0.96" stop-color="#6a78bc"/><stop offset="1" stop-color="#4c5690"/></radialGradient><radialGradient id="gPn" cx="0.5" cy="0.5" r="0.5" fx="0.52" fy="0.45"><stop offset="0" stop-color="#ad4eff"/><stop offset="0.45" stop-color="#9a36fa"/><stop offset="0.72" stop-color="#8e2ef2"/><stop offset="0.88" stop-color="#7622d4"/><stop offset="0.96" stop-color="#5a149e"/><stop offset="1" stop-color="#42097a"/></radialGradient><radialGradient id="gRs" cx="0.5" cy="0.5" r="0.5" fx="0.48" fy="0.22"><stop offset="0" stop-color="#ea4c4c"/><stop offset="0.4" stop-color="#de4242"/><stop offset="0.65" stop-color="#cc3a3a"/><stop offset="0.82" stop-color="#b03030"/><stop offset="0.93" stop-color="#8c2424"/><stop offset="1" stop-color="#661a1a"/></radialGradient></defs>
<text x="1624" y="50" font-size="67" textLength="46" lengthAdjust="spacingAndGlyphs" stroke="#111" stroke-width="0.9">D</text>
<ellipse cx="1818.7" cy="228.9" rx="71.3" ry="125.4" transform="rotate(-18.7 1818.7 228.9)" fill="url(#gPt)" stroke="#3a0a68" stroke-width="1.3"/>
<ellipse cx="1811" cy="175" rx="13" ry="36" transform="rotate(-22 1811 175)" fill="#ffd8ff" opacity="0.8" filter="url(#b6)"/>
<ellipse cx="1811" cy="172" rx="6" ry="20" transform="rotate(-22 1811 172)" fill="#ffffff" opacity="0.9" filter="url(#b3)"/>
<ellipse cx="1828" cy="410" rx="58" ry="36" transform="rotate(8 1828 410)" fill="url(#gPm)" stroke="#3a0a68" stroke-width="1.3"/>
<ellipse cx="1928" cy="527" rx="32" ry="56" transform="rotate(-6 1928 527)" fill="url(#gPl)" stroke="#3a0a68" stroke-width="1.3"/>
<ellipse cx="1922.7" cy="508.4" rx="4.5" ry="10" transform="rotate(0 1922.7 508.4)" fill="#fff" opacity="0.95" filter="url(#b2)"/>
<ellipse cx="1897" cy="470" rx="14" ry="30" transform="rotate(-15 1897 470)" fill="url(#gBs)" stroke="#3c4680" stroke-width="1.3"/>
<ellipse cx="1992.8" cy="390.0" rx="120.8" ry="93.3" transform="rotate(-41.5 1992.8 390.0)" fill="url(#gBn)" stroke="#3c4680" stroke-width="1.3"/>
<ellipse cx="1831" cy="383" rx="64" ry="48" transform="rotate(8 1831 383)" fill="url(#gBm)" stroke="#3c4680" stroke-width="1.3"/>
<ellipse cx="1849" cy="388" rx="18" ry="8" transform="rotate(0 1849 388)" fill="#fff" opacity="0.9" filter="url(#b3)"/>
<ellipse cx="1765.7" cy="286.3" rx="113.2" ry="65.4" transform="rotate(18.6 1765.7 286.3)" fill="url(#gBr)" stroke="#3c4680" stroke-width="1.3"/>
<ellipse cx="1712" cy="249" rx="24" ry="8" transform="rotate(-5 1712 249)" fill="#fff" opacity="0.7" filter="url(#b3)"/>
<ellipse cx="2004.8" cy="403.4" rx="118.4" ry="83.8" transform="rotate(-38.9 2004.8 403.4)" fill="url(#gPn)" stroke="#3a0a68" stroke-width="1.3"/>
<ellipse cx="2012" cy="391" rx="26" ry="10" transform="rotate(-30 2012 391)" fill="#ffd0ff" opacity="0.8" filter="url(#b6)"/>
<ellipse cx="2012" cy="391" rx="13" ry="5" transform="rotate(-30 2012 391)" fill="#fff" opacity="0.9" filter="url(#b2)"/>
<ellipse cx="1836.2" cy="619.3" rx="78.5" ry="207" transform="rotate(1.2 1836.2 619.3)" fill="url(#gRs)" stroke="#4a0c0c" stroke-width="1.3"/>
<ellipse cx="1834" cy="500" rx="10" ry="36" transform="rotate(0 1834 500)" fill="#ff8a8a" opacity="0.3" filter="url(#b6)"/>
<text x="1727.5" y="298.4" font-size="39" fill="#fde6fb" stroke="#5e1870" stroke-width="2.6" paint-order="stroke" stroke-linejoin="round" textLength="74" lengthAdjust="spacingAndGlyphs">RBD</text>
<text x="1942.2" y="457.6" font-size="37" fill="#fde6fb" stroke="#5e1870" stroke-width="2.6" paint-order="stroke" stroke-linejoin="round" textLength="77.5" lengthAdjust="spacingAndGlyphs">NTD</text>
<text x="1811.5" y="614.9" font-size="38" fill="#fde6fb" stroke="#5e1870" stroke-width="2.6" paint-order="stroke" stroke-linejoin="round" textLength="42.5" lengthAdjust="spacingAndGlyphs">S2</text>
<path d="M1670.5,202.5 C1667,176 1686,152 1716,137" stroke="#1a1a1a" stroke-width="3.6" fill="none" stroke-linecap="round"/>
<path d="M1704.3,120.2 L1741,123.6 L1718.7,153 Z" fill="#1a1a1a"/>
<path d="M2053,268.3 C2066,266.3 2081,271.5 2091,285" stroke="#1a1a1a" stroke-width="3.2" fill="none" stroke-linecap="round"/>
<path d="M2080.2,291.7 L2105.6,280.4 L2102.1,308 Z" fill="#1a1a1a"/>
<path d="M1742.3,374.7 L1747.6,396" stroke="#1a1a1a" stroke-width="3" fill="none"/>
<path d="M1734.1,397.7 L1760.7,390.4 L1752.8,417.1 Z" fill="#1a1a1a"/>
<g stroke="#333" stroke-width="1">
<rect x="1672" y="918.5" width="88.8" height="31.5" fill="#1ba1e2"/>
<rect x="1760.8" y="918.5" width="24.4" height="31.5" fill="#a9c9f2"/>
<rect x="1785.2" y="918.5" width="70.8" height="31.5" fill="#283592"/>
<rect x="1856" y="918.5" width="24.8" height="31.5" fill="#a9c9f2"/>
<rect x="1880.8" y="918.5" width="181.5" height="31.5" fill="#d83c3c"/>
</g>
<text x="1688.5" y="943.9" font-size="28.5" fill="#fff" textLength="55" lengthAdjust="spacingAndGlyphs">NTD</text>
<text x="1794.5" y="943.9" font-size="28.5" fill="#fff" textLength="53" lengthAdjust="spacingAndGlyphs">RBD</text>
<text x="1956.5" y="943.9" font-size="28.5" fill="#fff" textLength="29" lengthAdjust="spacingAndGlyphs">S2</text>
<text x="1837.8" y="882.5" font-size="20.4" textLength="87" lengthAdjust="spacingAndGlyphs" stroke="#111" stroke-width="0.35">Furin Site</text>
<path d="M1881.2,891.7 V906" stroke="#111" stroke-width="1.5"/>
<path d="M1877,904 L1885.4,904 L1881.2,913.5 Z" fill="#111"/>
<text x="1668" y="974" font-size="20.7" textLength="14" lengthAdjust="spacingAndGlyphs" stroke="#111" stroke-width="0.35">N</text>
<text x="2050" y="974" font-size="20.7" textLength="14.5" lengthAdjust="spacingAndGlyphs" stroke="#111" stroke-width="0.35">C</text>
</svg>
</body></html>
